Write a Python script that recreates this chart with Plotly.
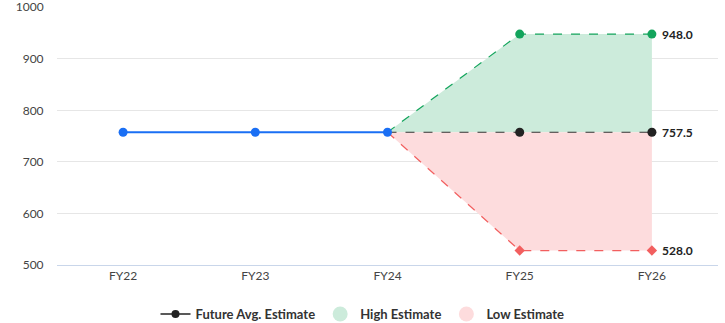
import plotly.graph_objects as go

categories = ["FY22", "FY23", "FY24", "FY25", "FY26"]
hist_cats = ["FY22", "FY23", "FY24"]
hist_vals = [757.5, 757.5, 757.5]
fut_cats = ["FY24", "FY25", "FY26"]
avg_vals = [757.5, 757.5, 757.5]
high_vals = [757.5, 948.0, 948.0]
low_vals = [757.5, 528.0, 528.0]
y_ticks = [500, 600, 700, 800, 900, 1000]

GREEN_FILL = "rgba(204,235,219,1)"
RED_FILL = "rgba(253,220,221,1)"
GREEN = "#13a45c"
RED = "#f25f5f"
BLUE = "#1a6ff4"
FONT = "Lato"

fig = go.Figure()

# fills
fig.add_trace(go.Scatter(x=fut_cats, y=avg_vals, mode="lines", line=dict(width=0), showlegend=False, hoverinfo="skip"))
fig.add_trace(go.Scatter(x=fut_cats, y=high_vals, mode="lines", line=dict(width=0), fill="tonexty", fillcolor=GREEN_FILL, showlegend=False, hoverinfo="skip"))
fig.add_trace(go.Scatter(x=fut_cats, y=avg_vals, mode="lines", line=dict(width=0), showlegend=False, hoverinfo="skip"))
fig.add_trace(go.Scatter(x=fut_cats, y=low_vals, mode="lines", line=dict(width=0), fill="tonexty", fillcolor=RED_FILL, showlegend=False, hoverinfo="skip"))

# lines
fig.add_trace(go.Scatter(x=fut_cats[1:], y=high_vals[1:], mode="markers", marker=dict(color=GREEN, size=9), showlegend=False))
fig.add_trace(go.Scatter(x=fut_cats, y=high_vals, mode="lines", line=dict(color=GREEN, width=1.2, dash="dash"), showlegend=False))
fig.add_trace(go.Scatter(x=fut_cats, y=low_vals, mode="lines", line=dict(color=RED, width=1.2, dash="dash"), showlegend=False))
fig.add_trace(go.Scatter(x=fut_cats[1:], y=low_vals[1:], mode="markers", marker=dict(color=RED, size=8, symbol="diamond"), showlegend=False))
fig.add_trace(go.Scatter(x=fut_cats, y=avg_vals, mode="lines", line=dict(color="#333333", width=1.2, dash="dash"), showlegend=False))
fig.add_trace(go.Scatter(x=fut_cats[1:], y=avg_vals[1:], mode="markers", marker=dict(color="#222222", size=9), showlegend=False))
fig.add_trace(go.Scatter(x=hist_cats, y=hist_vals, mode="lines+markers", line=dict(color=BLUE, width=2), marker=dict(color=BLUE, size=9), showlegend=False))

# legend entries
fig.add_trace(go.Scatter(x=[None], y=[None], mode="lines+markers", name="Future Avg. Estimate",
                         line=dict(color="#222222", width=1.5), marker=dict(color="#222222", size=8)))
fig.add_trace(go.Scatter(x=[None], y=[None], mode="markers", name="High Estimate",
                         marker=dict(color=GREEN_FILL, size=15)))
fig.add_trace(go.Scatter(x=[None], y=[None], mode="markers", name="Low Estimate",
                         marker=dict(color=RED_FILL, size=15)))

for v in [high_vals[-1], avg_vals[-1], low_vals[-1]]:
    fig.add_annotation(x="FY26", y=v, text=f"{v:.1f}", showarrow=False, xanchor="left", xshift=8,
                       font=dict(family=FONT, size=12, color="#222222", weight="bold"))

fig.update_layout(
    width=725, height=323,
    margin=dict(l=57, r=7, t=7, b=58, autoexpand=False),
    paper_bgcolor="white", plot_bgcolor="white",
    font=dict(family=FONT, size=12, color="#444444"),
    legend=dict(orientation="h", xref="container", x=0.5, xanchor="center", y=-0.19, yanchor="middle",
                traceorder="normal",
                font=dict(family=FONT, size=13, color="#333333", weight="bold")),
    xaxis=dict(type="category", categoryorder="array", categoryarray=categories, range=[-0.5, 4.5],
               showgrid=False, showline=True, linecolor="#c9d6ea", linewidth=1, ticks="", automargin=False,
               tickfont=dict(family=FONT, size=12, color="#444444")),
    yaxis=dict(range=[500, 1000.5], tickvals=y_ticks, showgrid=True, gridcolor="#e6e6e6", gridwidth=1,
               zeroline=False, showline=False, ticks="outside", ticklen=10, tickcolor="rgba(0,0,0,0)",
               automargin=False, ticklabeloverflow="allow",
               tickfont=dict(family=FONT, size=12, color="#444444")),
    showlegend=True,
)

fig.write_html("out.html", config={"displayModeBar": False},
               post_script="document.body.style.margin='0';document.body.style.overflow='hidden';")
